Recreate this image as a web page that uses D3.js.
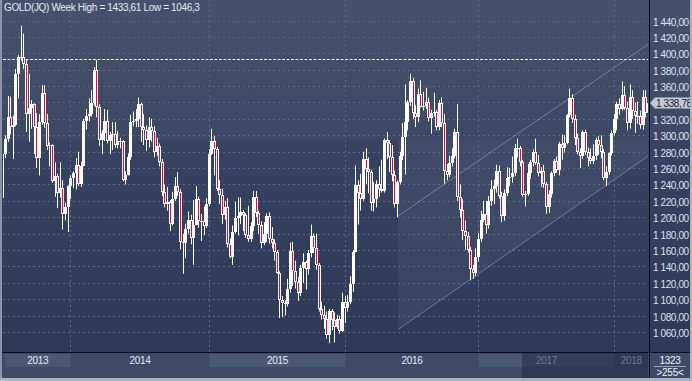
<!DOCTYPE html>
<html><head><meta charset="utf-8">
<script src="https://cdn.jsdelivr.net/npm/d3@7"></script>
<style>
html,body{margin:0;padding:0;background:#3b4762;overflow:hidden}
svg{display:block}
text{font-family:"Liberation Sans",Arial,sans-serif}
</style>
</head><body>
<svg id="c" width="692" height="381"></svg>
<script>
// ---- DATA (weekly GOLD candles, July 2013 - March 2018) ----
const opens=[1223,1277,1295,1322,1310,1313,1375,1395,1396,1387,1326,1333,1338,1310,1272,1316,1352,1315,1287,1288,1244,1250,1229,1236,1204,1213,
1238,1248,1254,1264,1240,1263,1318,1323,1326,1339,1380,1334,1294,1303,1318,1293,1300,1302,1288,1293,1293,1245,1252,1274,1316,1317,1320,1338,1310,1307,1294,1310,1305,1280,1287,1268,1231,1216,1218,1192,1222,1238,1231,1170,1168,1186,1197,1175,1191,1222,1195,1196,
1189,1216,1277,1293,1283,1234,1227,1203,1213,1167,1152,1182,1199,1201,1207,1203,1178,1174,1189,1225,1205,1190,1168,1179,1201,1173,1168,1157,1132,1099,1095,1094,1113,1159,1134,1121,1108,1138,1145,1137,1156,1177,1162,1142,1088,1081,1076,1056,1086,1075,1066,1076,
1061,1097,1089,1096,1118,1158,1239,1230,1222,1271,1259,1255,1217,1222,1240,1234,1232,1294,1290,1273,1252,1216,1243,1275,1298,1316,1340,1366,1327,1322,1350,1335,1336,1341,1321,1327,1328,1310,1339,1315,1257,1251,1266,1275,1304,1225,1209,1183,1177,1160,1137,1132,
1151,1173,1197,1204,1190,1220,1234,1238,1257,1226,1201,1229,1248,1249,1254,1285,1284,1268,1227,1228,1254,1267,1279,1266,1254,1256,1241,1212,1228,1254,1269,1258,1289,1284,1291,1325,1346,1320,1297,1280,1275,1304,1280,1272,1269,1275,1294,1288,1280,1248,1255,1278,
1303,1320,1338,1332,1349,1333,1315,1347,1330,1323,1324,1313,1347,1327];
const highs=[1297,1300,1348,1347,1324,1381,1398,1433.61,1424,1392,1375,1343,1339,1327,1326,1361,1361,1326,1291,1289,1267,1253,1267,1245,1218,1239,
1251,1256,1272,1280,1268,1320,1332,1345,1355,1383,1392,1338,1306,1332,1331,1304,1316,1316,1305,1297,1294,1256,1278,1325,1329,1332,1346,1340,1326,1312,1322,1320,1311,1297,1290,1271,1240,1237,1221,1231,1249,1255,1234,1180,1192,1207,1203,1221,1238,1225,1204,1213,
1223,1283,1308,1299,1286,1245,1235,1220,1223,1174,1190,1219,1224,1224,1209,1205,1214,1194,1232,1232,1208,1195,1194,1205,1206,1188,1173,1160,1134,1104,1099,1125,1169,1170,1147,1127,1142,1156,1147,1160,1191,1180,1180,1144,1097,1092,1085,1088,1088,1084,1081,1080,
1108,1104,1105,1128,1160,1263,1245,1253,1280,1284,1273,1258,1243,1245,1262,1270,1296,1304,1294,1288,1257,1245,1280,1315,1362,1343,1375,1370,1337,1357,1367,1353,1358,1346,1331,1352,1331,1343,1346,1326,1265,1275,1284,1308,1338,1240,1222,1196,1182,1164,1142,1162,
1181,1208,1220,1220,1226,1245,1246,1264,1263,1231,1234,1261,1260,1274,1289,1296,1287,1270,1232,1265,1270,1283,1296,1276,1261,1264,1243,1233,1256,1271,1274,1292,1301,1300,1326,1357,1350,1325,1302,1284,1306,1307,1285,1284,1289,1297,1299,1300,1283,1262,1279,1306,
1326,1341,1345,1366,1360,1341,1362,1355,1340,1341,1330,1355,1355,1343];
const lows=[1207,1272,1292,1301,1271,1311,1345,1391,1381,1304,1292,1308,1277,1260,1251,1313,1309,1282,1262,1242,1225,1211,1224,1185,1196,1182,
1222,1236,1234,1238,1237,1262,1307,1317,1323,1336,1322,1287,1277,1293,1290,1277,1282,1285,1284,1284,1244,1240,1251,1270,1311,1310,1310,1292,1288,1281,1285,1292,1273,1275,1262,1226,1212,1208,1183,1190,1220,1226,1161,1131,1150,1180,1167,1142,1190,1187,1171,1178,
1187,1214,1276,1251,1232,1216,1192,1197,1163,1150,1142,1180,1178,1192,1183,1175,1170,1170,1183,1200,1180,1162,1166,1170,1168,1162,1147,1131,1077,1078,1080,1091,1108,1116,1113,1098,1104,1120,1112,1130,1151,1156,1136,1085,1075,1064,1052,1046.3,1062,1047,1064,1058,
1060,1071,1085,1094,1109,1157,1191,1208,1220,1240,1229,1208,1207,1212,1225,1230,1230,1271,1255,1244,1212,1200,1240,1270,1252,1306,1336,1320,1310,1316,1334,1330,1332,1317,1302,1323,1306,1306,1310,1241,1245,1249,1262,1272,1220,1200,1172,1160,1157,1123,1125,1128,
1146,1170,1194,1180,1186,1214,1216,1230,1223,1194,1196,1226,1238,1242,1250,1273,1262,1225,1213,1226,1247,1262,1264,1250,1237,1236,1204,1205,1224,1250,1254,1251,1270,1279,1289,1322,1315,1288,1277,1260,1271,1276,1262,1265,1265,1270,1276,1272,1245,1238,1252,1275,
1300,1306,1325,1330,1331,1306,1308,1320,1303,1314,1308,1307,1322,1322];
const closes=[1277,1295,1322,1310,1313,1375,1395,1396,1387,1326,1333,1338,1310,1272,1316,1352,1315,1287,1288,1244,1250,1229,1236,1204,1213,1238,
1248,1254,1264,1240,1263,1318,1323,1326,1339,1380,1334,1294,1303,1318,1293,1300,1302,1288,1293,1293,1245,1252,1274,1316,1317,1320,1338,1310,1307,1294,1310,1305,1280,1287,1268,1231,1216,1218,1192,1222,1238,1231,1170,1168,1186,1197,1175,1191,1222,1195,1196,1189,
1216,1277,1293,1283,1234,1227,1203,1213,1167,1152,1182,1199,1201,1207,1203,1178,1174,1189,1225,1205,1190,1168,1179,1201,1173,1168,1157,1132,1099,1095,1094,1113,1159,1134,1121,1108,1138,1145,1137,1156,1177,1162,1142,1088,1081,1076,1056,1086,1075,1066,1076,1061,
1097,1089,1096,1118,1158,1239,1230,1222,1271,1259,1255,1217,1222,1240,1234,1232,1294,1290,1273,1252,1216,1243,1275,1298,1316,1340,1366,1327,1322,1350,1335,1336,1341,1321,1327,1328,1310,1339,1315,1257,1251,1266,1275,1304,1225,1209,1183,1177,1160,1137,1132,1151,
1173,1197,1204,1190,1220,1234,1238,1257,1226,1201,1229,1248,1249,1254,1285,1284,1268,1227,1228,1254,1267,1279,1266,1254,1256,1241,1212,1228,1254,1269,1258,1289,1284,1291,1325,1346,1320,1297,1280,1275,1304,1280,1272,1269,1275,1294,1288,1280,1248,1255,1278,1303,
1320,1338,1332,1349,1333,1315,1347,1330,1323,1324,1313,1347,1327,1338.78];

const yearLabels=["2013","2014","2015","2016","2017","2018"];
const yearStartIdx=[-1,26,79,131,182,234];   // index of first weekly bar of each year
const priceTicks=[1060,1080,1100,1120,1140,1160,1180,1200,1220,1240,1260,1280,1300,1320,1340,1360,1380,1400,1420,1440];
const hLineLevel=1392.5;                      // horizontal reference line
const chanIdx=[151.4,247.2];                  // channel anchors (bar index)
const chanUpper=[1201.5,1411.3];
const chanLower=[1063,1274.7];
const footerTop="1323", footerBottom=">255<";
const instrument="GOLD(JQ)", period="Week";

// ---- LAYOUT ----
const W=692,H=381;
const plotL=3, plotR=648, plotT=0, plotB=352;
const n=closes.length;
const x=d3.scaleLinear().domain([0,n-1]).range([2.4,647.8]);
const y=d3.scaleLinear().domain([1060,1400]).range([332,53.3]);
const loc=d3.formatLocale({decimal:",",thousands:" ",grouping:[3],currency:["",""]});
const fmt2=loc.format(",.2f");
const fmtT=v=>String(v).replace(".",",");

const svg=d3.select("#c");
const defs=svg.append("defs");
const g1=defs.append("linearGradient").attr("id","bgTop").attr("x1",0).attr("x2",0).attr("y1",0).attr("y2",1);
g1.append("stop").attr("offset","0%").attr("stop-color","#46516b");
g1.append("stop").attr("offset","100%").attr("stop-color","#3d4964");
const g2=defs.append("linearGradient").attr("id","bgBot").attr("x1",0).attr("x2",0).attr("y1",0).attr("y2",1);
g2.append("stop").attr("offset","0%").attr("stop-color","#374360");
g2.append("stop").attr("offset","100%").attr("stop-color","#2d3957");
defs.append("clipPath").attr("id","plotClip").append("rect").attr("x",plotL).attr("y",plotT).attr("width",plotR-plotL).attr("height",plotB-plotT);

// outer
svg.append("rect").attr("width",W).attr("height",H).attr("fill","#3c4863");
// plot backgrounds
const bandY=140;
svg.append("rect").attr("x",0).attr("y",0).attr("width",W).attr("height",bandY).attr("fill","url(#bgTop)");
svg.append("rect").attr("x",0).attr("y",bandY).attr("width",W).attr("height",plotB-bandY).attr("fill","url(#bgBot)");

const plot=svg.append("g").attr("clip-path","url(#plotClip)");
// channel shading (right of channel start, above lower line)
const lowerAt=i=>chanLower[0]+(chanLower[1]-chanLower[0])*(i-chanIdx[0])/(chanIdx[1]-chanIdx[0]);
plot.append("path")
  .attr("d",`M${x(chanIdx[0])},${bandY}L${plotR},${bandY}L${plotR},${y(lowerAt(x.invert(plotR)))}L${x(chanIdx[0])},${y(chanLower[0])}Z`)
  .attr("fill","#ffffff").attr("fill-opacity",0.05);

// grid
plot.selectAll(".hg").data(priceTicks).join("line")
  .attr("x1",plotL).attr("x2",plotR)
  .attr("y1",d=>Math.round(y(d))+0.5).attr("y2",d=>Math.round(y(d))+0.5)
  .attr("stroke","#5b6a88").attr("stroke-width",1).attr("stroke-dasharray","2,3");
plot.selectAll(".vg").data(yearStartIdx.slice(1)).join("line")
  .attr("x1",d=>Math.round(x(d))+0.5).attr("x2",d=>Math.round(x(d))+0.5)
  .attr("y1",plotT).attr("y2",plotB)
  .attr("stroke","#5b6a88").attr("stroke-width",1).attr("stroke-dasharray","2,3");

// horizontal reference line
plot.append("line").attr("x1",plotL).attr("x2",plotR)
  .attr("y1",Math.round(y(hLineLevel))+0.5).attr("y2",Math.round(y(hLineLevel))+0.5)
  .attr("stroke","#f0f0f0").attr("stroke-width",1).attr("stroke-dasharray","3,1.5");

// channel lines
[chanUpper,chanLower].forEach(c=>{
  plot.append("line").attr("x1",x(chanIdx[0])).attr("y1",y(c[0])).attr("x2",x(chanIdx[1])).attr("y2",y(c[1]))
    .attr("stroke","#b4bfd6").attr("stroke-opacity",0.45).attr("stroke-width",1);
});

// candles
const idx=d3.range(n);
const cg=plot.append("g");
cg.selectAll(".wick").data(idx).join("line")
  .attr("x1",i=>Math.round(x(i))+0.5).attr("x2",i=>Math.round(x(i))+0.5)
  .attr("y1",i=>y(highs[i])).attr("y2",i=>y(lows[i]))
  .attr("stroke","#ffffff").attr("stroke-width",1);
const bTop=i=>Math.round(y(Math.max(opens[i],closes[i])));
const bBot=i=>Math.round(y(Math.min(opens[i],closes[i])));
cg.selectAll(".body").data(idx).join("rect")
  .attr("x",i=>Math.round(x(i))-1).attr("width",3)
  .attr("y",i=>bTop(i)).attr("height",i=>Math.max(1,bBot(i)-bTop(i)))
  .attr("fill","#ffffff");
cg.selectAll(".red").data(idx.filter(i=>closes[i]<opens[i]&&bBot(i)-bTop(i)>2)).join("rect")
  .attr("x",i=>Math.round(x(i))).attr("width",1)
  .attr("y",i=>bTop(i)+1).attr("height",i=>bBot(i)-bTop(i)-2)
  .attr("fill","#f0003c");

// title
svg.append("text").attr("x",4).attr("y",11).attr("fill","#e4e8f0").attr("font-size",10).attr("letter-spacing","-0.35")
  .text(`${instrument} ${period} High = ${fmtT(d3.max(highs))} Low = ${fmtT(d3.min(lows))}`);

// x-axis strip
const stripT=353, stripB=378;
svg.append("rect").attr("x",2).attr("y",stripT).attr("width",W-2).attr("height",stripB-stripT).attr("fill","#3e4a66");
const bandEdges=yearLabels.map((d,k)=>{
  const a=k===0?5:Math.round(x(yearStartIdx[k]))+0.5;
  const b=k===yearLabels.length-1?plotR:Math.round(x(yearStartIdx[k+1]))+0.5;
  return {label:d,a,b,k};
});
svg.selectAll(".band").data(bandEdges.filter(d=>d.k%2===0)).join("rect")
  .attr("x",d=>d.a).attr("width",d=>d.b-d.a).attr("y",354).attr("height",13).attr("fill","#4b5873");
// inactive (dark) overlay
const darkFrom=522;
svg.append("rect").attr("x",darkFrom).attr("y",stripT).attr("width",plotR-darkFrom).attr("height",stripB-stripT)
  .attr("fill","#1c2640").attr("fill-opacity",0.5);
svg.selectAll(".yl").data(bandEdges).join("text")
  .attr("x",d=>(d.a+d.b)/2).attr("y",364).attr("text-anchor","middle").attr("font-size",10).attr("letter-spacing","-0.3")
  .attr("fill",d=>((d.a+d.b)/2>darkFrom)?"#6f7a92":"#e6eaf2").text(d=>d.label);

// black separators
svg.append("line").attr("x1",2).attr("x2",W).attr("y1",352.5).attr("y2",352.5).attr("stroke","#0c0f18");
svg.append("line").attr("x1",649.5).attr("x2",649.5).attr("y1",0).attr("y2",stripB).attr("stroke","#0c0f18");

// right axis labels (the last-price marker hides the tick it covers)
const lp=closes[n-1], ly=Math.round(y(lp));
svg.selectAll(".yt").data(priceTicks.filter(d=>Math.abs(y(d)-ly)>9)).join("text")
  .attr("x",653).attr("y",d=>y(d)+5).attr("font-size",10).attr("letter-spacing","-0.4")
  .attr("fill","#dce2ec").text(d=>fmt2(d));

// last price marker
svg.append("path").attr("d",`M650,${ly}L655,${ly-5.5}L692,${ly-5.5}L692,${ly+5.5}L655,${ly+5.5}Z`)
  .attr("fill","#c3c8d2").attr("stroke","#8a93a6").attr("stroke-width",0.8);
svg.append("text").attr("x",656).attr("y",ly+4).attr("font-size",10).attr("letter-spacing","-0.4")
  .attr("fill","#1b2233").text(fmt2(lp));

// footer box
svg.append("rect").attr("x",650).attr("y",stripT).attr("width",40).attr("height",stripB-stripT).attr("fill","#3e4a66");
svg.append("text").attr("x",670).attr("y",364).attr("text-anchor","middle").attr("font-size",10).attr("letter-spacing","-0.3").attr("fill","#f0f2f6").text(footerTop);
svg.append("line").attr("x1",654).attr("x2",686).attr("y1",366.5).attr("y2",366.5).attr("stroke","#9aa4b6");
svg.append("text").attr("x",670).attr("y",376).attr("text-anchor","middle").attr("font-size",10).attr("letter-spacing","-0.3").attr("fill","#f0f2f6").text(footerBottom);

// outer frame
svg.append("rect").attr("x",0).attr("y",0).attr("width",2).attr("height",H).attr("fill","#8b95a8");
svg.append("rect").attr("x",0).attr("y",H-3).attr("width",W).attr("height",3).attr("fill","#a9b2c2");
svg.append("rect").attr("x",W-2).attr("y",0).attr("width",2).attr("height",H).attr("fill","#a9b2c2");
</script>
</body></html>
